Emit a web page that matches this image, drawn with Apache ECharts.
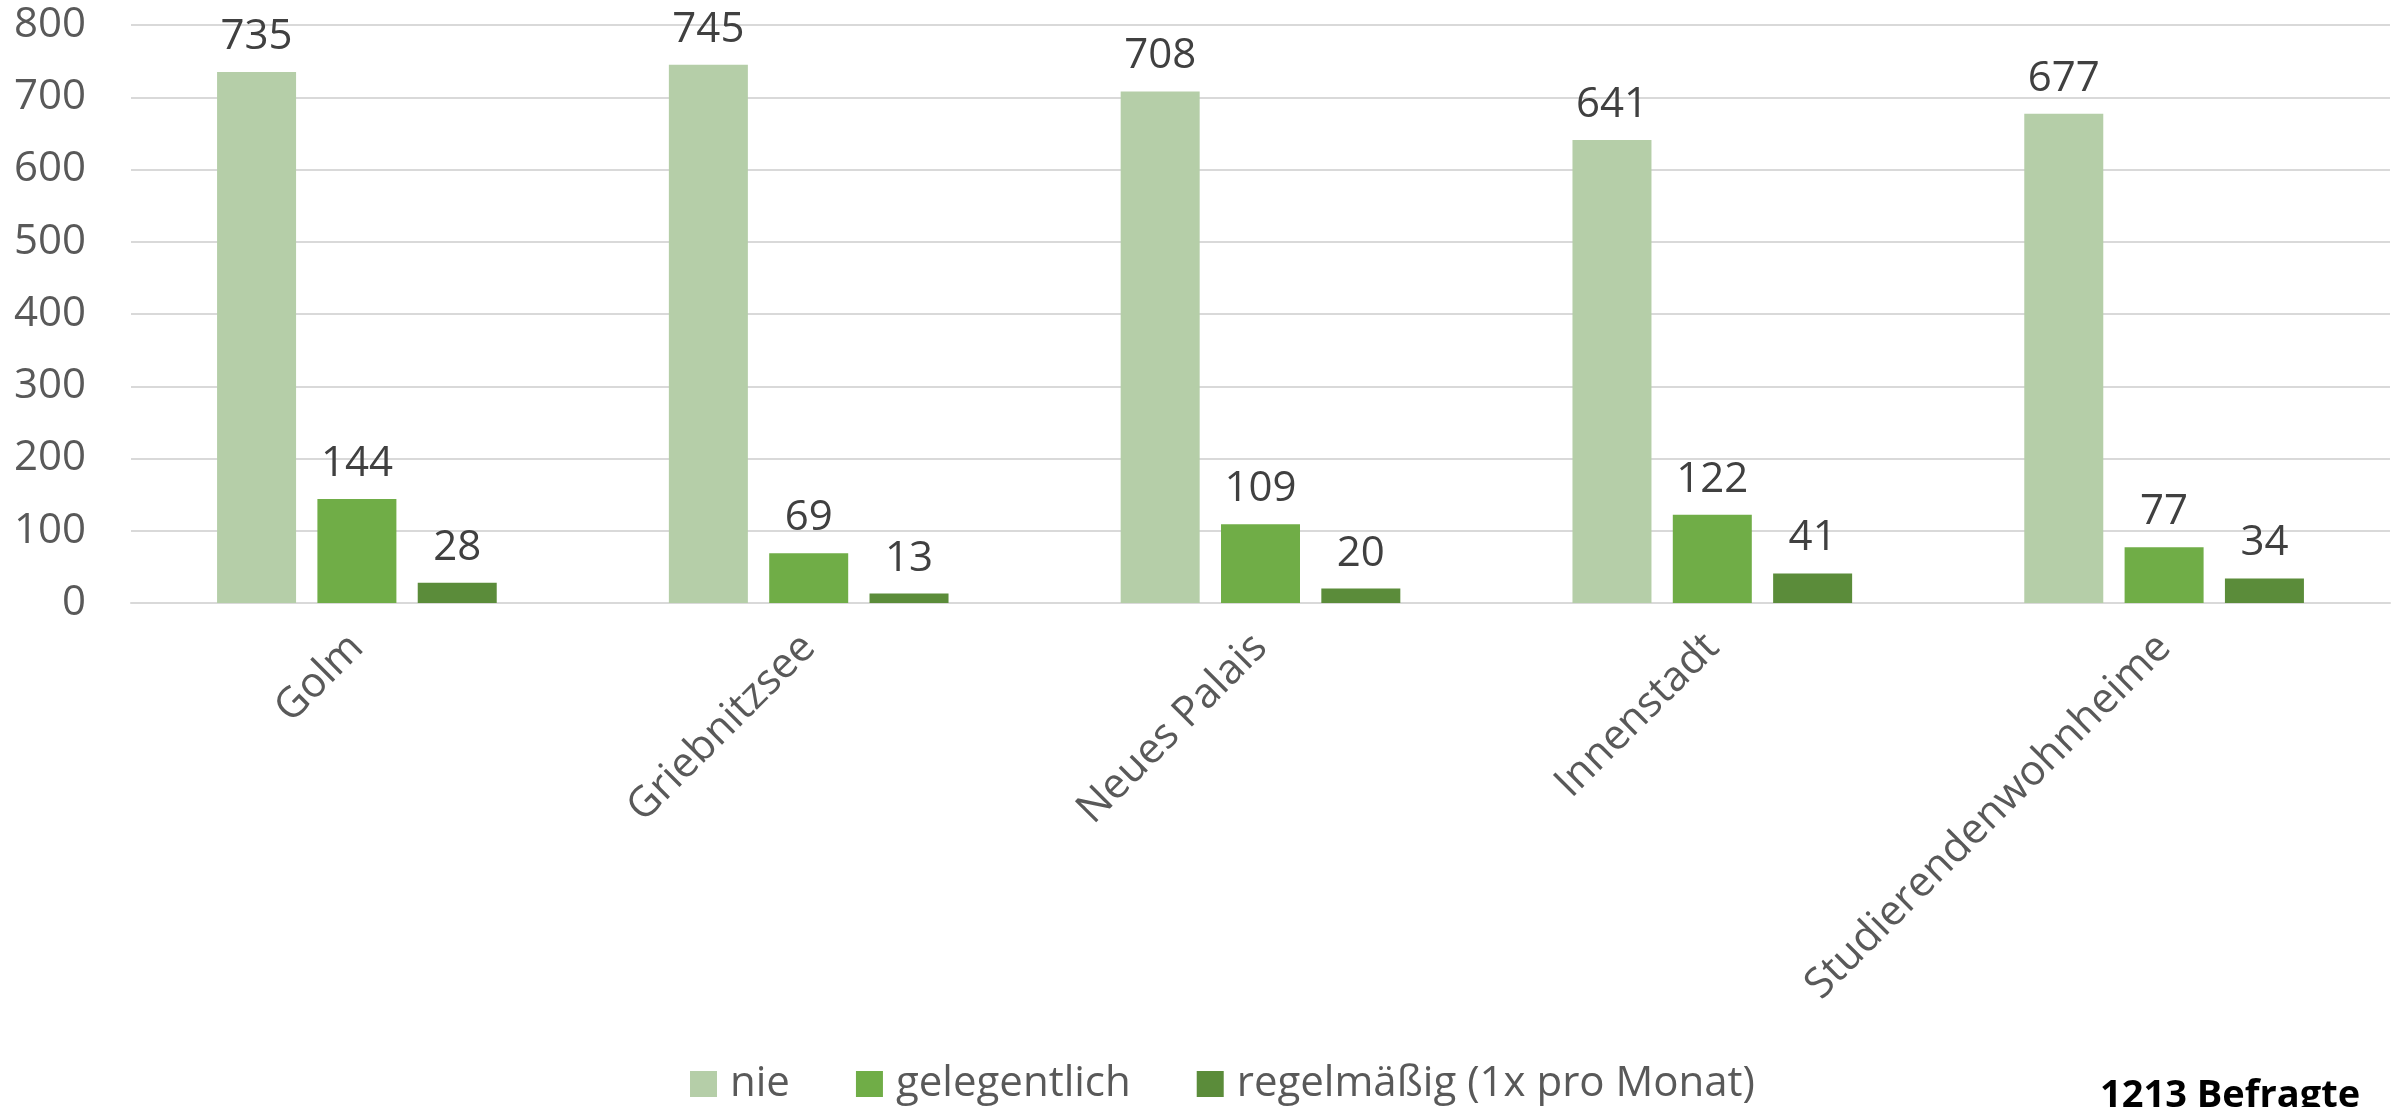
<!DOCTYPE html>
<html>
<head>
<meta charset="utf-8">
<script src="https://cdn.jsdelivr.net/npm/echarts@6/dist/echarts.min.js"></script>
<style>
html,body{margin:0;padding:0;background:#fff;}
#chart{width:2405px;height:1107px;}
</style>
</head>
<body>
<div id="chart"></div>
<script>
const categories = ['Golm', 'Griebnitzsee', 'Neues Palais', 'Innenstadt', 'Studierendenwohnheime'];
const seriesNames = ['nie', 'gelegentlich', 'regelmäßig (1x pro Monat)'];
const nie = [735, 745, 708, 641, 677];
const gelegentlich = [144, 69, 109, 122, 77];
const regelmaessig = [28, 13, 20, 41, 34];
const yTicks = { min: 0, max: 800, interval: 100 };
const note = '1213 Befragte';

const colors = ['#B5CEA8', '#70AD47', '#5B8C3A'];
const FONT = 'Open Sans';

const chart = echarts.init(document.getElementById('chart'));
const mk = (name, data, color) => ({
  name, type: 'bar', data,
  barWidth: 79, barGap: '27%',
  itemStyle: { color },
  label: { show: true, position: 'top', distance: 14, color: '#404040', fontSize: 42, fontFamily: FONT }
});
chart.setOption({
  animation: false,
  textStyle: { fontFamily: FONT },
  grid: { left: 131, right: 15, top: 25, bottom: 504, containLabel: false },
  legend: {
    data: seriesNames,
    left: 685, top: 1058,
    itemWidth: 27, itemHeight: 26, itemGap: 66,
    icon: 'rect',
    textStyle: { fontSize: 42, color: '#595959', fontFamily: FONT, padding: [0, 0, 0, 8] }
  },
  xAxis: {
    type: 'category', data: categories,
    axisTick: { show: false },
    axisLine: { lineStyle: { color: '#D9D9D9', width: 2 } },
    axisLabel: { rotate: 45, margin: 38, fontSize: 42, color: '#595959', fontFamily: FONT, interval: 0 }
  },
  yAxis: {
    type: 'value', min: yTicks.min, max: yTicks.max, interval: yTicks.interval,
    axisLine: { show: false }, axisTick: { show: false },
    splitLine: { lineStyle: { color: '#D9D9D9', width: 2 } },
    axisLabel: { fontSize: 42, color: '#595959', margin: 45, fontFamily: FONT }
  },
  graphic: [{
    type: 'text', left: 2100, top: 1077,
    style: { text: note, font: 'bold 38px "Open Sans"', fill: '#000' }
  }],
  series: [mk(seriesNames[0], nie, colors[0]), mk(seriesNames[1], gelegentlich, colors[1]), mk(seriesNames[2], regelmaessig, colors[2])]
});
</script>
</body>
</html>
